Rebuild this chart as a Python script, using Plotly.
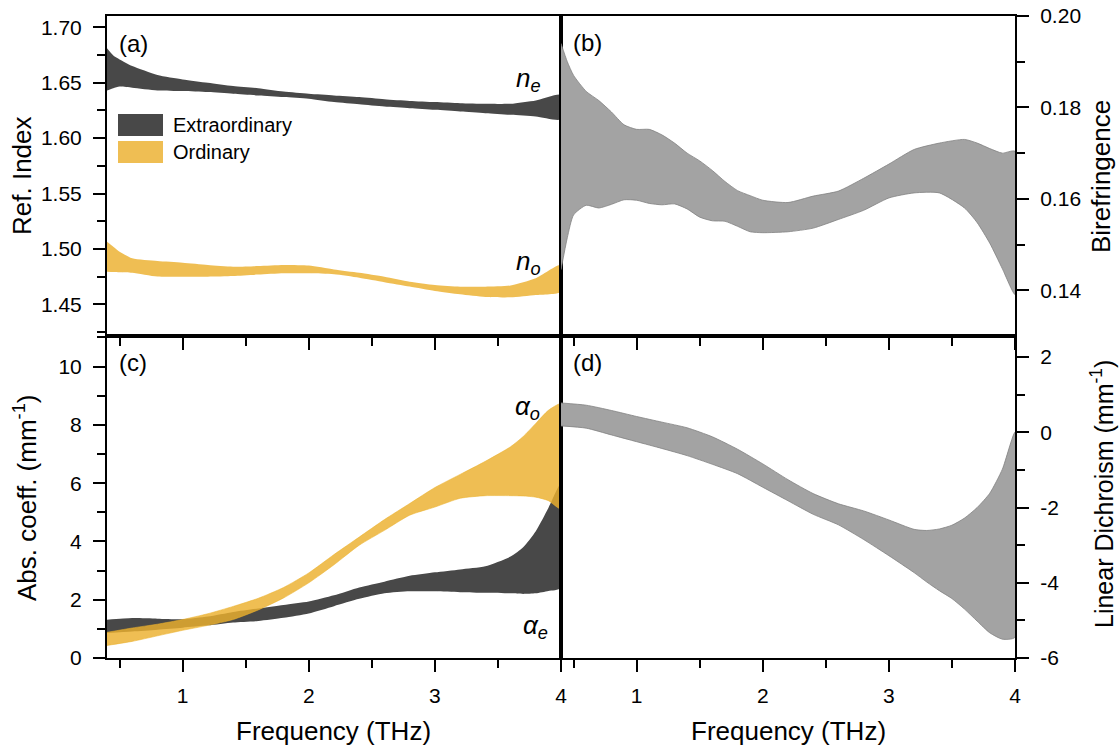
import plotly.graph_objects as go

W, H = 1120, 749

# ---------------- data ----------------
FREQ_A = [0.4, 0.45, 0.5, 0.6, 0.8, 1.0, 1.2, 1.4, 1.6, 1.8, 2.0, 2.2, 2.4, 2.6, 2.8, 3.0, 3.2, 3.4, 3.6, 3.8, 4.0]
NE_HI = [1.681, 1.6745, 1.671, 1.665, 1.657, 1.653, 1.650, 1.647, 1.645, 1.642, 1.640, 1.6385, 1.637, 1.635, 1.6335, 1.6325, 1.6315, 1.631, 1.631, 1.634, 1.639]
NE_LO = [1.643, 1.645, 1.6465, 1.6455, 1.643, 1.6425, 1.6415, 1.640, 1.6385, 1.637, 1.6355, 1.6325, 1.6305, 1.6285, 1.627, 1.6255, 1.624, 1.6225, 1.621, 1.6195, 1.617]
NO_HI = [1.5065, 1.502, 1.4975, 1.4915, 1.489, 1.4875, 1.4855, 1.484, 1.4845, 1.4855, 1.485, 1.4815, 1.4785, 1.4749, 1.4704, 1.4674, 1.4659, 1.4659, 1.467, 1.4735, 1.4855]
NO_LO = [1.4794, 1.4792, 1.4790, 1.4785, 1.475, 1.4749, 1.4749, 1.4755, 1.4768, 1.478, 1.478, 1.4771, 1.474, 1.470, 1.466, 1.462, 1.459, 1.4566, 1.4563, 1.4584, 1.4614]

FREQ_B = [0.4, 0.45, 0.5, 0.6, 0.7, 0.8, 0.9, 1.0, 1.1, 1.2, 1.3, 1.4, 1.5, 1.6, 1.7, 1.8, 1.9, 2.0, 2.2, 2.4, 2.6, 2.8, 3.0, 3.2, 3.4, 3.6, 3.7, 3.8, 3.9, 4.0]
BIR_HI = [0.194, 0.190, 0.187, 0.1835, 0.1815, 0.179, 0.1762, 0.1752, 0.1752, 0.174, 0.1722, 0.170, 0.1683, 0.1662, 0.1638, 0.1618, 0.1607, 0.1597, 0.1592, 0.1606, 0.1617, 0.1645, 0.1676, 0.1708, 0.1722, 0.1730, 0.1722, 0.1710, 0.1700, 0.1704]
BIR_LO = [0.1445, 0.1515, 0.1565, 0.1586, 0.1580, 0.1588, 0.1598, 0.1597, 0.1590, 0.1587, 0.1589, 0.1578, 0.1560, 0.1552, 0.1551, 0.1540, 0.1528, 0.1526, 0.1528, 0.1536, 0.1555, 0.1575, 0.1602, 0.1613, 0.1613, 0.1580, 0.1548, 0.1503, 0.1447, 0.1391]

FREQ_C = [0.4, 0.6, 0.8, 1.0, 1.2, 1.4, 1.6, 1.8, 2.0, 2.2, 2.4, 2.6, 2.8, 3.0, 3.2, 3.4, 3.6, 3.7, 3.8, 3.9, 4.0]
AE_HI = [1.31, 1.37, 1.35, 1.33, 1.42, 1.58, 1.70, 1.82, 1.94, 2.15, 2.42, 2.62, 2.82, 2.94, 3.04, 3.15, 3.48, 3.80, 4.35, 5.15, 6.0]
AE_LO = [0.86, 0.91, 0.97, 1.04, 1.12, 1.22, 1.27, 1.38, 1.53, 1.78, 2.03, 2.22, 2.29, 2.29, 2.26, 2.24, 2.22, 2.20, 2.22, 2.30, 2.40]
AO_HI = [0.88, 1.03, 1.16, 1.32, 1.52, 1.77, 2.05, 2.42, 2.92, 3.55, 4.15, 4.75, 5.30, 5.85, 6.30, 6.75, 7.25, 7.60, 8.05, 8.50, 8.72]
AO_LO = [0.43, 0.57, 0.76, 0.95, 1.12, 1.32, 1.65, 2.06, 2.58, 3.20, 3.87, 4.38, 4.90, 5.18, 5.48, 5.57, 5.57, 5.56, 5.52, 5.40, 5.12]

FREQ_D = [0.4, 0.6, 0.8, 1.0, 1.2, 1.4, 1.6, 1.8, 2.0, 2.2, 2.4, 2.6, 2.8, 3.0, 3.2, 3.3, 3.4, 3.5, 3.6, 3.7, 3.8, 3.9, 4.0]
LD_HI = [0.78, 0.72, 0.58, 0.42, 0.27, 0.12, -0.12, -0.45, -0.84, -1.26, -1.63, -1.90, -2.09, -2.33, -2.58, -2.61, -2.57, -2.47, -2.28, -2.00, -1.62, -0.98, 0.0]
LD_LO = [0.17, 0.11, -0.07, -0.25, -0.43, -0.62, -0.85, -1.10, -1.46, -1.82, -2.18, -2.46, -2.85, -3.28, -3.73, -3.98, -4.21, -4.42, -4.70, -5.02, -5.33, -5.50, -5.45]

X_TICKS = [1, 2, 3, 4]
X_MINOR = [0.5, 1.5, 2.5, 3.5]
A_TICKS = [1.45, 1.50, 1.55, 1.60, 1.65, 1.70]
A_MINOR = [1.425, 1.475, 1.525, 1.575, 1.625, 1.675]
B_TICKS = [0.14, 0.16, 0.18, 0.20]
B_MINOR = [0.15, 0.17, 0.19]
C_TICKS = [0, 2, 4, 6, 8, 10]
C_MINOR = [1, 3, 5, 7, 9, 11]
D_TICKS = [-6, -4, -2, 0, 2]
D_MINOR = [-5, -3, -1, 1]

# ---------------- style ----------------
FONT = "Liberation Sans, Arial, Helvetica, sans-serif"
DARK = "rgb(72,72,72)"
ORANGE = "rgba(235,176,45,0.82)"
GRAY = "rgb(163,163,163)"
GRAY_EDGE = "rgb(130,130,130)"


def px2x(p):
    return p / W


def px2y(p):
    return 1 - p / H


def band(fx, hi, lo, xa, ya, fill, edge, lw):
    return go.Scatter(
        x=list(fx) + list(fx)[::-1],
        y=list(hi) + list(lo)[::-1],
        fill="toself", fillcolor=fill, mode="lines",
        line=dict(color=edge, width=lw, shape="spline", smoothing=0.6),
        xaxis=xa, yaxis=ya, hoverinfo="skip", showlegend=False,
    )


fig = go.Figure()
fig.add_trace(band(FREQ_A, NE_HI, NE_LO, "x", "y", DARK, DARK, 0))
fig.add_trace(band(FREQ_A, NO_HI, NO_LO, "x", "y", ORANGE, "rgba(0,0,0,0)", 0))
fig.add_trace(band(FREQ_B, BIR_HI, BIR_LO, "x2", "y2", GRAY, GRAY_EDGE, 0.8))
fig.add_trace(band(FREQ_C, AE_HI, AE_LO, "x3", "y3", DARK, DARK, 0))
fig.add_trace(band(FREQ_C, AO_HI, AO_LO, "x3", "y3", ORANGE, "rgba(235,176,45,0.9)", 0.6))
fig.add_trace(band(FREQ_D, LD_HI, LD_LO, "x4", "y4", GRAY, GRAY_EDGE, 0.8))

TF = dict(family=FONT, size=21, color="black")

XL = [107 / W, 561 / W]
XR = [561 / W, 1015 / W]
YT = [px2y(336), px2y(16)]
YB = [px2y(658), px2y(336)]


def xaxis(domain, anchor, labels):
    return dict(
        domain=domain, anchor=anchor, range=[0.4, 4.0], automargin=False,
        showline=True, linecolor="black", linewidth=2, mirror=True,
        ticks="outside", ticklen=12, tickwidth=2, tickcolor="black",
        tickmode="array", tickvals=X_TICKS, ticktext=[str(v) for v in X_TICKS],
        showticklabels=labels, tickfont=TF, ticklabelstandoff=6,
        minor=dict(tickmode="array", tickvals=X_MINOR, ticks="outside", ticklen=8,
                   tickwidth=2, tickcolor="black", showgrid=False),
        showgrid=False, zeroline=False,
    )


def yaxis(domain, anchor, rng, ticks, minor, text, side):
    return dict(
        domain=domain, anchor=anchor, range=rng, side=side, automargin=False,
        showline=True, linecolor="black", linewidth=2, mirror=True,
        ticks="outside", ticklen=12, tickwidth=2, tickcolor="black",
        tickmode="array", tickvals=ticks, ticktext=text,
        tickfont=TF, ticklabelstandoff=7,
        minor=dict(tickmode="array", tickvals=minor, ticks="outside", ticklen=8,
                   tickwidth=2, tickcolor="black", showgrid=False),
        showgrid=False, zeroline=False,
    )


annotations = []


def ann(text, x, y, size, xanchor="center", angle=0):
    annotations.append(dict(
        text=text, x=px2x(x), y=px2y(y), xref="paper", yref="paper",
        xanchor=xanchor, yanchor="middle", showarrow=False, textangle=angle,
        font=dict(family=FONT, size=size, color="black"),
    ))


# panel labels
ann("(a)", 133, 43, 24)
ann("(b)", 587, 42, 24)
ann("(c)", 133, 362, 24)
ann("(d)", 587, 362, 24)
# curve labels
ann("<i>n</i><sub><i>e</i></sub>", 528, 80, 26)
ann("<i>n</i><sub><i>o</i></sub>", 528, 262, 26)
ann("<i>α</i><sub><i>o</i></sub>", 527, 407, 26)
ann("<i>α</i><sub><i>e</i></sub>", 535, 626, 26)
# axis titles
ann("Ref. Index", 22, 176, 26, angle=-90)
ann("Abs. coeff. (mm<sup>-1</sup>)", 25, 498, 26, angle=-90)
ann("Birefringence", 1101, 177, 26, angle=-90)
ann("Linear Dichroism (mm<sup>-1</sup>)", 1102, 494, 25, angle=-90)
ann("Frequency (THz)", 333, 731, 26)
ann("Frequency (THz)", 788, 731, 26)
# legend text
ann("Extraordinary", 171, 125, 20, xanchor="left")
ann("Ordinary", 171, 152, 20, xanchor="left")

shapes = [
    dict(type="rect", xref="paper", yref="paper", x0=px2x(118), x1=px2x(163),
         y0=px2y(136), y1=px2y(114), fillcolor=DARK, line=dict(width=0), layer="above"),
    dict(type="rect", xref="paper", yref="paper", x0=px2x(118), x1=px2x(163),
         y0=px2y(163), y1=px2y(141), fillcolor=ORANGE, line=dict(width=0), layer="above"),
]

fig.update_layout(
    width=W, height=H,
    margin=dict(l=0, r=0, t=0, b=0, pad=0, autoexpand=False),
    paper_bgcolor="white", plot_bgcolor="white",
    showlegend=False,
    font=dict(family=FONT, color="black"),
    xaxis=xaxis(XL, "y", False),
    yaxis=yaxis(YT, "x", [1.4214, 1.7102], A_TICKS, A_MINOR, [f"{v:.2f}" for v in A_TICKS], "left"),
    xaxis2=xaxis(XR, "y2", False),
    yaxis2=yaxis(YT, "x2", [0.13, 0.20], B_TICKS, B_MINOR, [f"{v:.2f}" for v in B_TICKS], "right"),
    xaxis3=xaxis(XL, "y3", True),
    yaxis3=yaxis(YB, "x3", [0, 11.05], C_TICKS, C_MINOR, [str(v) for v in C_TICKS], "left"),
    xaxis4=xaxis(XR, "y4", True),
    yaxis4=yaxis(YB, "x4", [-6.0, 2.56], D_TICKS, D_MINOR, [str(v) for v in D_TICKS], "right"),
    annotations=annotations,
    shapes=shapes,
)

fig.write_html(
    "out.html",
    config={"displayModeBar": False},
    post_script="document.body.style.margin='0';document.body.style.padding='0';document.body.style.overflow='hidden';",
)
